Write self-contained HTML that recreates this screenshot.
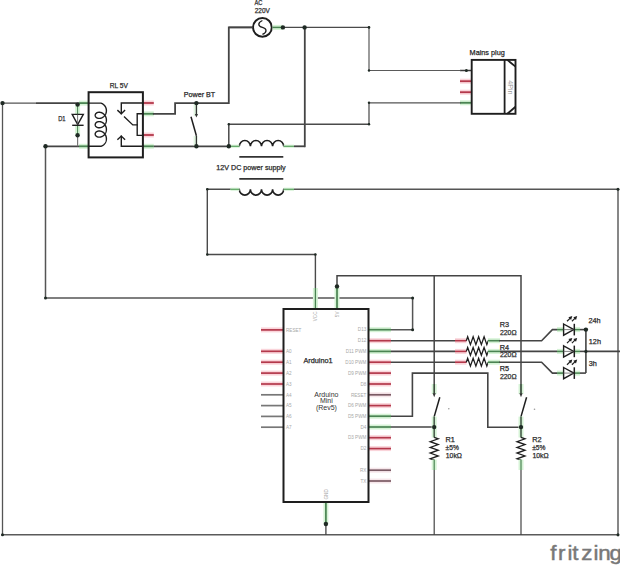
<!DOCTYPE html>
<html><head><meta charset="utf-8"><style>
html,body{margin:0;padding:0;background:#fff;}
body{width:620px;height:565px;overflow:hidden;}
svg{display:block;font-family:"Liberation Sans",sans-serif;}
</style></head><body>
<svg width="620" height="565" viewBox="0 0 620 565">
<rect width="620" height="565" fill="#fff"/>
<line x1="79" y1="103.1" x2="88.6" y2="103.1" stroke="#d6f3d6" stroke-width="5"/>
<line x1="79" y1="103.1" x2="88.6" y2="103.1" stroke="#4a8452" stroke-width="1.8"/>
<line x1="79" y1="146.3" x2="88.6" y2="146.3" stroke="#d6f3d6" stroke-width="5"/>
<line x1="79" y1="146.3" x2="88.6" y2="146.3" stroke="#4a8452" stroke-width="1.8"/>
<line x1="142.9" y1="103.0" x2="153.8" y2="103.0" stroke="#fad4da" stroke-width="5"/>
<line x1="142.9" y1="103.0" x2="153.8" y2="103.0" stroke="#b3384b" stroke-width="1.8"/>
<line x1="142.9" y1="113.8" x2="153.8" y2="113.8" stroke="#d6f3d6" stroke-width="5"/>
<line x1="142.9" y1="113.8" x2="153.8" y2="113.8" stroke="#4a8452" stroke-width="1.8"/>
<line x1="142.9" y1="135.0" x2="153.8" y2="135.0" stroke="#fad4da" stroke-width="5"/>
<line x1="142.9" y1="135.0" x2="153.8" y2="135.0" stroke="#b3384b" stroke-width="1.8"/>
<line x1="142.9" y1="146.3" x2="153.8" y2="146.3" stroke="#d6f3d6" stroke-width="5"/>
<line x1="142.9" y1="146.3" x2="153.8" y2="146.3" stroke="#4a8452" stroke-width="1.8"/>
<line x1="77.6" y1="104.6" x2="77.6" y2="114.4" stroke="#d6f3d6" stroke-width="5"/>
<line x1="77.6" y1="104.6" x2="77.6" y2="114.4" stroke="#4a8452" stroke-width="1.0"/>
<line x1="77.6" y1="125.4" x2="77.6" y2="135.2" stroke="#d6f3d6" stroke-width="5"/>
<line x1="77.6" y1="125.4" x2="77.6" y2="135.2" stroke="#4a8452" stroke-width="1.0"/>
<line x1="460" y1="70.5" x2="471.6" y2="70.5" stroke="#3a3a3a" stroke-width="1.5"/>
<line x1="460" y1="81.2" x2="471.6" y2="81.2" stroke="#fad4da" stroke-width="5"/>
<line x1="460" y1="81.2" x2="471.6" y2="81.2" stroke="#b3384b" stroke-width="1.8"/>
<line x1="460" y1="92.2" x2="471.6" y2="92.2" stroke="#fad4da" stroke-width="5"/>
<line x1="460" y1="92.2" x2="471.6" y2="92.2" stroke="#b3384b" stroke-width="1.8"/>
<line x1="460" y1="102.8" x2="471.6" y2="102.8" stroke="#d6f3d6" stroke-width="5"/>
<line x1="460" y1="102.8" x2="471.6" y2="102.8" stroke="#4a8452" stroke-width="1.8"/>
<line x1="2.5" y1="102.2" x2="2.5" y2="535.5" stroke="#555" stroke-width="1.3"/>
<line x1="1.6" y1="103.1" x2="36" y2="103.1" stroke="#555" stroke-width="1.3"/>
<line x1="36" y1="103.1" x2="79" y2="103.1" stroke="#444" stroke-width="1.9"/>
<line x1="1.6" y1="534.8" x2="618.4" y2="534.8" stroke="#5a5a5a" stroke-width="1.6"/>
<line x1="45.5" y1="146.3" x2="79" y2="146.3" stroke="#444" stroke-width="1.8"/>
<polyline points="45.5,146.3 45.5,297.9 412.6,297.9 412.6,329.7 391,329.7" fill="none" stroke="#555" stroke-width="1.5" stroke-linejoin="miter" stroke-linecap="square"/>
<line x1="77.6" y1="135.2" x2="77.6" y2="146.3" stroke="#777" stroke-width="1.2"/>
<polyline points="153.8,113.8 175.1,113.8 175.1,103.1 228.8,103.1 228.8,27.4 252,27.4" fill="none" stroke="#444" stroke-width="1.8" stroke-linejoin="miter" stroke-linecap="square"/>
<line x1="153.8" y1="146.3" x2="239.3" y2="146.3" stroke="#444" stroke-width="1.8"/>
<line x1="283.7" y1="146.3" x2="304.8" y2="146.3" stroke="#444" stroke-width="1.8"/>
<line x1="304.8" y1="27.4" x2="304.8" y2="147.2" stroke="#444" stroke-width="1.8"/>
<line x1="272.6" y1="27.4" x2="369.0" y2="27.4" stroke="#4a4a4a" stroke-width="1.4"/>
<polyline points="369.0,27.4 369.0,70.5 460,70.5" fill="none" stroke="#5a5a5a" stroke-width="1.2" stroke-linejoin="miter" stroke-linecap="square"/>
<polyline points="460,102.8 369.0,102.8 369.0,124.2" fill="none" stroke="#555" stroke-width="1.3" stroke-linejoin="miter" stroke-linecap="square"/>
<polyline points="369.0,124.2 228.8,124.2 228.8,146.3" fill="none" stroke="#4a4a4a" stroke-width="1.5" stroke-linejoin="miter" stroke-linecap="square"/>
<polyline points="239.3,189.3 207.3,189.3 207.3,254.5 315.4,254.5 315.4,288" fill="none" stroke="#4a4a4a" stroke-width="1.4" stroke-linejoin="miter" stroke-linecap="square"/>
<polyline points="283.7,189.3 618.0,189.3 618.0,535.5" fill="none" stroke="#555" stroke-width="1.4" stroke-linejoin="miter" stroke-linecap="square"/>
<polyline points="337.0,288 337.0,275.8 521.0,275.8 521.0,384" fill="none" stroke="#444" stroke-width="1.5" stroke-linejoin="miter" stroke-linecap="square"/>
<line x1="434.2" y1="275.8" x2="434.2" y2="384" stroke="#444" stroke-width="1.5"/>
<line x1="391" y1="340.7" x2="455" y2="340.7" stroke="#444" stroke-width="1.6"/>
<line x1="391" y1="351.4" x2="455" y2="351.4" stroke="#444" stroke-width="1.6"/>
<line x1="391" y1="362.2" x2="455" y2="362.2" stroke="#444" stroke-width="1.6"/>
<polyline points="391,416.2 412.4,416.2 412.4,373.1 487.8,373.1 487.8,427.2 520.9,427.2" fill="none" stroke="#444" stroke-width="1.6" stroke-linejoin="miter" stroke-linecap="square"/>
<line x1="391" y1="427.0" x2="434.2" y2="427.0" stroke="#444" stroke-width="1.6"/>
<rect x="88.6" y="92.2" width="54.3" height="65.2" fill="none" stroke="#1e1e1e" stroke-width="2"/>
<path d="M88.6,103.1 L100.8,103.1 L100.80,103.10 L101.11,103.19 L101.41,103.30 L101.72,103.42 L102.02,103.55 L102.32,103.71 L102.61,103.87 L102.90,104.05 L103.18,104.25 L103.46,104.46 L103.73,104.69 L103.98,104.92 L104.23,105.18 L104.47,105.44 L104.70,105.71 L104.91,106.00 L105.11,106.30 L105.30,106.60 L105.48,106.92 L105.64,107.25 L105.79,107.58 L105.92,107.92 L106.04,108.27 L106.14,108.62 L106.22,108.97 L106.29,109.34 L106.34,109.70 L106.38,110.07 L106.40,110.43 L106.40,110.80 L106.38,111.17 L106.35,111.53 L106.30,111.90 L106.23,112.26 L106.15,112.62 L106.05,112.97 L105.94,113.32 L105.81,113.66 L105.66,113.99 L105.50,114.32 L105.33,114.64 L105.14,114.95 L104.94,115.24 L104.73,115.53 L104.50,115.81 L104.27,116.07 L104.02,116.33 L103.76,116.57 L103.50,116.79 L103.22,117.01 L102.94,117.20 L102.66,117.39 L102.36,117.56 L102.06,117.71 L101.76,117.85 L101.46,117.97 L101.15,118.08 L100.84,118.17 L100.54,118.25 L100.23,118.31 L99.92,118.36 L99.62,118.39 L99.32,118.40 L99.03,118.40 L98.74,118.38 L98.46,118.35 L98.18,118.31 L97.91,118.25 L97.65,118.18 L97.40,118.09 L97.16,117.99 L96.93,117.88 L96.72,117.76 L96.51,117.63 L96.32,117.49 L96.14,117.34 L95.98,117.18 L95.83,117.01 L95.70,116.84 L95.58,116.65 L95.47,116.47 L95.39,116.27 L95.32,116.08 L95.26,115.88 L95.22,115.68 L95.20,115.47 L95.20,115.27 L95.21,115.07 L95.24,114.86 L95.29,114.66 L95.35,114.47 L95.43,114.27 L95.53,114.08 L95.64,113.90 L95.77,113.72 L95.91,113.55 L96.07,113.39 L96.24,113.23 L96.43,113.08 L96.63,112.95 L96.84,112.82 L97.06,112.71 L97.30,112.61 L97.54,112.52 L97.80,112.44 L98.06,112.37 L98.34,112.32 L98.62,112.29 L98.90,112.26 L99.20,112.26 L99.49,112.26 L99.79,112.29 L100.10,112.33 L100.40,112.38 L100.71,112.45 L101.02,112.53 L101.33,112.64 L101.63,112.75 L101.94,112.88 L102.24,113.03 L102.53,113.19 L102.82,113.37 L103.10,113.56 L103.38,113.77 L103.65,113.99 L103.91,114.23 L104.16,114.47 L104.40,114.73 L104.63,115.01 L104.85,115.29 L105.06,115.58 L105.25,115.89 L105.43,116.20 L105.60,116.52 L105.75,116.85 L105.89,117.19 L106.01,117.54 L106.11,117.89 L106.20,118.24 L106.27,118.60 L106.33,118.97 L106.37,119.33 L106.39,119.70 L106.40,120.07 L106.39,120.43 L106.36,120.80 L106.32,121.17 L106.26,121.53 L106.18,121.89 L106.08,122.24 L105.97,122.59 L105.85,122.93 L105.71,123.27 L105.55,123.60 L105.38,123.92 L105.20,124.23 L105.00,124.53 L104.79,124.82 L104.57,125.10 L104.34,125.37 L104.09,125.63 L103.84,125.87 L103.57,126.10 L103.30,126.32 L103.02,126.52 L102.74,126.71 L102.45,126.88 L102.15,127.04 L101.85,127.18 L101.55,127.31 L101.24,127.42 L100.93,127.52 L100.62,127.60 L100.32,127.67 L100.01,127.72 L99.71,127.75 L99.41,127.77 L99.11,127.77 L98.82,127.76 L98.54,127.73 L98.26,127.69 L97.99,127.64 L97.73,127.57 L97.47,127.49 L97.23,127.39 L97.00,127.29 L96.78,127.17 L96.57,127.04 L96.38,126.90 L96.19,126.75 L96.03,126.60 L95.87,126.43 L95.73,126.26 L95.61,126.08 L95.50,125.89 L95.41,125.70 L95.33,125.51 L95.28,125.31 L95.23,125.11 L95.21,124.90 L95.20,124.70 L95.21,124.50 L95.23,124.29 L95.28,124.09 L95.33,123.89 L95.41,123.70 L95.50,123.51 L95.61,123.32 L95.73,123.14 L95.87,122.97 L96.03,122.80 L96.19,122.65 L96.38,122.50 L96.57,122.36 L96.78,122.23 L97.00,122.11 L97.23,122.01 L97.47,121.91 L97.73,121.83 L97.99,121.76 L98.26,121.71 L98.54,121.67 L98.82,121.64 L99.11,121.63 L99.41,121.63 L99.71,121.65 L100.01,121.68 L100.32,121.73 L100.62,121.80 L100.93,121.88 L101.24,121.98 L101.55,122.09 L101.85,122.22 L102.15,122.36 L102.45,122.52 L102.74,122.69 L103.02,122.88 L103.30,123.08 L103.57,123.30 L103.84,123.53 L104.09,123.77 L104.34,124.03 L104.57,124.30 L104.79,124.58 L105.00,124.87 L105.20,125.17 L105.38,125.48 L105.55,125.80 L105.71,126.13 L105.85,126.47 L105.97,126.81 L106.08,127.16 L106.18,127.51 L106.26,127.87 L106.32,128.23 L106.36,128.60 L106.39,128.97 L106.40,129.33 L106.39,129.70 L106.37,130.07 L106.33,130.43 L106.27,130.80 L106.20,131.16 L106.11,131.51 L106.01,131.86 L105.89,132.21 L105.75,132.55 L105.60,132.88 L105.43,133.20 L105.25,133.51 L105.06,133.82 L104.85,134.11 L104.63,134.39 L104.40,134.67 L104.16,134.93 L103.91,135.17 L103.65,135.41 L103.38,135.63 L103.10,135.84 L102.82,136.03 L102.53,136.21 L102.24,136.37 L101.94,136.52 L101.63,136.65 L101.33,136.76 L101.02,136.87 L100.71,136.95 L100.40,137.02 L100.10,137.07 L99.79,137.11 L99.49,137.14 L99.20,137.14 L98.90,137.14 L98.62,137.11 L98.34,137.08 L98.06,137.03 L97.80,136.96 L97.54,136.88 L97.30,136.79 L97.06,136.69 L96.84,136.58 L96.63,136.45 L96.43,136.32 L96.24,136.17 L96.07,136.01 L95.91,135.85 L95.77,135.68 L95.64,135.50 L95.53,135.32 L95.43,135.13 L95.35,134.93 L95.29,134.74 L95.24,134.54 L95.21,134.33 L95.20,134.13 L95.20,133.93 L95.22,133.72 L95.26,133.52 L95.32,133.32 L95.39,133.13 L95.47,132.93 L95.58,132.75 L95.70,132.56 L95.83,132.39 L95.98,132.22 L96.14,132.06 L96.32,131.91 L96.51,131.77 L96.72,131.64 L96.93,131.52 L97.16,131.41 L97.40,131.31 L97.65,131.22 L97.91,131.15 L98.18,131.09 L98.46,131.05 L98.74,131.02 L99.03,131.00 L99.32,131.00 L99.62,131.01 L99.92,131.04 L100.23,131.09 L100.54,131.15 L100.84,131.23 L101.15,131.32 L101.46,131.43 L101.76,131.55 L102.06,131.69 L102.36,131.84 L102.66,132.01 L102.94,132.20 L103.22,132.39 L103.50,132.61 L103.76,132.83 L104.02,133.07 L104.27,133.33 L104.50,133.59 L104.73,133.87 L104.94,134.16 L105.14,134.45 L105.33,134.76 L105.50,135.08 L105.66,135.41 L105.81,135.74 L105.94,136.08 L106.05,136.43 L106.15,136.78 L106.23,137.14 L106.30,137.50 L106.35,137.87 L106.38,138.23 L106.40,138.60 L106.40,138.97 L106.38,139.33 L106.34,139.70 L106.29,140.06 L106.22,140.43 L106.14,140.78 L106.04,141.13 L105.92,141.48 L105.79,141.82 L105.64,142.15 L105.48,142.48 L105.30,142.80 L105.11,143.10 L104.91,143.40 L104.70,143.69 L104.47,143.96 L104.23,144.22 L103.98,144.48 L103.73,144.71 L103.46,144.94 L103.18,145.15 L102.90,145.35 L102.61,145.53 L102.32,145.69 L102.02,145.85 L101.72,145.98 L101.41,146.10 L101.11,146.21 L100.80,146.30 L88.6,146.3" fill="none" stroke="#1e1e1e" stroke-width="1.4"/>
<polyline points="142.9,103.0 121.3,103.0 121.3,113.5" fill="none" stroke="#1e1e1e" stroke-width="1.4" stroke-linejoin="miter" stroke-linecap="square"/>
<polyline points="117.9,110.6 121.3,113.8 124.6,110.6" fill="none" stroke="#1e1e1e" stroke-width="1.4" stroke-linejoin="miter" stroke-linecap="square"/>
<polyline points="142.9,146.3 121.3,146.3 121.3,136.3" fill="none" stroke="#1e1e1e" stroke-width="1.4" stroke-linejoin="miter" stroke-linecap="square"/>
<polyline points="117.9,139.3 121.3,136.1 124.6,139.3" fill="none" stroke="#1e1e1e" stroke-width="1.4" stroke-linejoin="miter" stroke-linecap="square"/>
<polyline points="142.9,113.8 137.2,113.8 137.2,135.4 142.9,135.4" fill="none" stroke="#1e1e1e" stroke-width="1.4" stroke-linejoin="miter" stroke-linecap="square"/>
<polyline points="137.2,124.9 132.8,124.9 124.5,117.0" fill="none" stroke="#1e1e1e" stroke-width="1.4" stroke-linejoin="miter" stroke-linecap="square"/>
<path d="M72.2,114.4 L83.3,114.4 L77.7,124.6 Z" fill="none" stroke="#1e1e1e" stroke-width="1.4"/>
<line x1="72.2" y1="125.3" x2="83.6" y2="125.3" stroke="#1e1e1e" stroke-width="1.4"/>
<line x1="77.6" y1="114.4" x2="77.6" y2="124.6" stroke="#555" stroke-width="0.8"/>
<line x1="195.6" y1="104" x2="195.6" y2="116" stroke="#e2f6e2" stroke-width="4"/>
<line x1="195.6" y1="136" x2="195.6" y2="145.5" stroke="#e2f6e2" stroke-width="4"/>
<line x1="196.4" y1="103.1" x2="196.4" y2="114.5" stroke="#333" stroke-width="1.3"/>
<path d="M194.8,114 L198,114 L196.4,117.6 Z" fill="#333"/>
<line x1="196.4" y1="135.8" x2="196.4" y2="146.3" stroke="#333" stroke-width="1.3"/>
<line x1="196.4" y1="135.8" x2="191.0" y2="116.8" stroke="#1e1e1e" stroke-width="1.5"/>
<circle cx="262.4" cy="27.4" r="9.4" fill="#fff" stroke="#1e1e1e" stroke-width="2"/>
<path d="M262.4,20.5 C257.6,22.5 257.6,26 262.4,27.4 C267.2,28.8 267.2,32.3 262.4,34.3" fill="none" stroke="#1e1e1e" stroke-width="1.3"/>
<line x1="272.6" y1="27.4" x2="282.9" y2="27.4" stroke="#d6f3d6" stroke-width="5"/>
<line x1="272.6" y1="27.4" x2="282.9" y2="27.4" stroke="#4a8452" stroke-width="1.5"/>
<line x1="228.8" y1="27.4" x2="252.8" y2="27.4" stroke="#444" stroke-width="1.6"/>
<path d="M239.3,146.3 A5.55,5.83 0 0 1 250.40,146.3 A5.55,5.83 0 0 1 261.50,146.3 A5.55,5.83 0 0 1 272.60,146.3 A5.55,5.83 0 0 1 283.70,146.3 " fill="none" stroke="#1e1e1e" stroke-width="1.6"/>
<path d="M239.3,189.3 A5.55,5.83 0 0 0 250.40,189.3 A5.55,5.83 0 0 0 261.50,189.3 A5.55,5.83 0 0 0 272.60,189.3 A5.55,5.83 0 0 0 283.70,189.3 " fill="none" stroke="#1e1e1e" stroke-width="1.6"/>
<line x1="230.5" y1="146.3" x2="239.3" y2="146.3" stroke="#dff5df" stroke-width="3.5"/>
<line x1="230.5" y1="146.3" x2="239.3" y2="146.3" stroke="#62a868" stroke-width="1.3"/>
<line x1="283.7" y1="146.3" x2="294" y2="146.3" stroke="#dff5df" stroke-width="3.5"/>
<line x1="283.7" y1="146.3" x2="294" y2="146.3" stroke="#62a868" stroke-width="1.3"/>
<line x1="230.5" y1="189.3" x2="239.3" y2="189.3" stroke="#dff5df" stroke-width="3.5"/>
<line x1="230.5" y1="189.3" x2="239.3" y2="189.3" stroke="#62a868" stroke-width="1.3"/>
<line x1="283.7" y1="189.3" x2="294" y2="189.3" stroke="#dff5df" stroke-width="3.5"/>
<line x1="283.7" y1="189.3" x2="294" y2="189.3" stroke="#62a868" stroke-width="1.3"/>
<line x1="239.3" y1="156.9" x2="283.3" y2="156.9" stroke="#333" stroke-width="1.6"/>
<line x1="239.3" y1="178.9" x2="283.3" y2="178.9" stroke="#333" stroke-width="1.6"/>
<rect x="471.7" y="59.9" width="43.8" height="53.9" fill="#fff" stroke="#1e1e1e" stroke-width="1.9"/>
<line x1="504.6" y1="59.9" x2="504.6" y2="113.8" stroke="#1e1e1e" stroke-width="1.8"/>
<line x1="507.3" y1="59.9" x2="515.5" y2="66.6" stroke="#1e1e1e" stroke-width="1.8"/>
<line x1="507.3" y1="113.8" x2="515.5" y2="106.8" stroke="#1e1e1e" stroke-width="1.8"/>
<line x1="261.0" y1="329.9" x2="283.5" y2="329.9" stroke="#fad4da" stroke-width="5"/>
<line x1="261.0" y1="329.9" x2="283.5" y2="329.9" stroke="#b3384b" stroke-width="1.7"/>
<line x1="261.0" y1="351.3" x2="283.5" y2="351.3" stroke="#fad4da" stroke-width="5"/>
<line x1="261.0" y1="351.3" x2="283.5" y2="351.3" stroke="#b3384b" stroke-width="1.7"/>
<line x1="261.0" y1="362.2" x2="283.5" y2="362.2" stroke="#fad4da" stroke-width="5"/>
<line x1="261.0" y1="362.2" x2="283.5" y2="362.2" stroke="#b3384b" stroke-width="1.7"/>
<line x1="261.0" y1="373.1" x2="283.5" y2="373.1" stroke="#fad4da" stroke-width="5"/>
<line x1="261.0" y1="373.1" x2="283.5" y2="373.1" stroke="#b3384b" stroke-width="1.7"/>
<line x1="261.0" y1="384.0" x2="283.5" y2="384.0" stroke="#fad4da" stroke-width="5"/>
<line x1="261.0" y1="384.0" x2="283.5" y2="384.0" stroke="#b3384b" stroke-width="1.7"/>
<line x1="261.0" y1="394.8" x2="283.5" y2="394.8" stroke="#777" stroke-width="1.7"/>
<line x1="261.0" y1="405.6" x2="283.5" y2="405.6" stroke="#777" stroke-width="1.7"/>
<line x1="261.0" y1="416.4" x2="283.5" y2="416.4" stroke="#777" stroke-width="1.7"/>
<line x1="261.0" y1="427.2" x2="283.5" y2="427.2" stroke="#777" stroke-width="1.7"/>
<line x1="368.5" y1="329.7" x2="391.0" y2="329.7" stroke="#d6f3d6" stroke-width="5"/>
<line x1="368.5" y1="329.7" x2="391.0" y2="329.7" stroke="#4a8452" stroke-width="1.7"/>
<line x1="368.5" y1="340.7" x2="391.0" y2="340.7" stroke="#fad4da" stroke-width="5"/>
<line x1="368.5" y1="340.7" x2="391.0" y2="340.7" stroke="#b3384b" stroke-width="1.7"/>
<line x1="368.5" y1="351.4" x2="391.0" y2="351.4" stroke="#d6f3d6" stroke-width="5"/>
<line x1="368.5" y1="351.4" x2="391.0" y2="351.4" stroke="#4a8452" stroke-width="1.7"/>
<line x1="368.5" y1="362.2" x2="391.0" y2="362.2" stroke="#fad4da" stroke-width="5"/>
<line x1="368.5" y1="362.2" x2="391.0" y2="362.2" stroke="#b3384b" stroke-width="1.7"/>
<line x1="368.5" y1="373.1" x2="391.0" y2="373.1" stroke="#fad4da" stroke-width="5"/>
<line x1="368.5" y1="373.1" x2="391.0" y2="373.1" stroke="#b3384b" stroke-width="1.7"/>
<line x1="368.5" y1="384.0" x2="391.0" y2="384.0" stroke="#fad4da" stroke-width="5"/>
<line x1="368.5" y1="384.0" x2="391.0" y2="384.0" stroke="#b3384b" stroke-width="1.7"/>
<line x1="368.5" y1="394.8" x2="391.0" y2="394.8" stroke="#f6e6ea" stroke-width="5"/>
<line x1="368.5" y1="394.8" x2="391.0" y2="394.8" stroke="#7a5a64" stroke-width="1.7"/>
<line x1="368.5" y1="405.6" x2="391.0" y2="405.6" stroke="#fad4da" stroke-width="5"/>
<line x1="368.5" y1="405.6" x2="391.0" y2="405.6" stroke="#b3384b" stroke-width="1.7"/>
<line x1="368.5" y1="416.2" x2="391.0" y2="416.2" stroke="#d6f3d6" stroke-width="5"/>
<line x1="368.5" y1="416.2" x2="391.0" y2="416.2" stroke="#4a8452" stroke-width="1.7"/>
<line x1="368.5" y1="427.0" x2="391.0" y2="427.0" stroke="#d6f3d6" stroke-width="5"/>
<line x1="368.5" y1="427.0" x2="391.0" y2="427.0" stroke="#4a8452" stroke-width="1.7"/>
<line x1="368.5" y1="437.7" x2="391.0" y2="437.7" stroke="#fad4da" stroke-width="5"/>
<line x1="368.5" y1="437.7" x2="391.0" y2="437.7" stroke="#b3384b" stroke-width="1.7"/>
<line x1="368.5" y1="448.6" x2="391.0" y2="448.6" stroke="#fad4da" stroke-width="5"/>
<line x1="368.5" y1="448.6" x2="391.0" y2="448.6" stroke="#b3384b" stroke-width="1.7"/>
<line x1="368.5" y1="470.2" x2="391.0" y2="470.2" stroke="#f6e6ea" stroke-width="5"/>
<line x1="368.5" y1="470.2" x2="391.0" y2="470.2" stroke="#7a5a64" stroke-width="1.7"/>
<line x1="368.5" y1="481.0" x2="391.0" y2="481.0" stroke="#f6e6ea" stroke-width="5"/>
<line x1="368.5" y1="481.0" x2="391.0" y2="481.0" stroke="#7a5a64" stroke-width="1.7"/>
<line x1="315.4" y1="288" x2="315.4" y2="309" stroke="#d6f3d6" stroke-width="5"/>
<line x1="315.4" y1="288" x2="315.4" y2="309" stroke="#4a8452" stroke-width="1.3"/>
<line x1="337.0" y1="288" x2="337.0" y2="309" stroke="#d6f3d6" stroke-width="5"/>
<line x1="337.0" y1="288" x2="337.0" y2="309" stroke="#4a8452" stroke-width="1.7"/>
<line x1="325.9" y1="502" x2="325.9" y2="524" stroke="#d6f3d6" stroke-width="5"/>
<line x1="325.9" y1="502" x2="325.9" y2="524" stroke="#4a8452" stroke-width="1.7"/>
<line x1="325.9" y1="524" x2="325.9" y2="535" stroke="#444" stroke-width="1.3"/>
<rect x="283.5" y="309" width="85" height="193" fill="none" stroke="#1e1e1e" stroke-width="2"/>
<text x="286.0" y="331.59999999999997" font-size="4.6" fill="#a8a8a8" text-anchor="start" >RESET</text>
<text x="286.0" y="353.0" font-size="4.6" fill="#a8a8a8" text-anchor="start" >A0</text>
<text x="286.0" y="363.9" font-size="4.6" fill="#a8a8a8" text-anchor="start" >A1</text>
<text x="286.0" y="374.8" font-size="4.6" fill="#a8a8a8" text-anchor="start" >A2</text>
<text x="286.0" y="385.7" font-size="4.6" fill="#a8a8a8" text-anchor="start" >A3</text>
<text x="286.0" y="396.5" font-size="4.6" fill="#a8a8a8" text-anchor="start" >A4</text>
<text x="286.0" y="407.3" font-size="4.6" fill="#a8a8a8" text-anchor="start" >A5</text>
<text x="286.0" y="418.09999999999997" font-size="4.6" fill="#a8a8a8" text-anchor="start" >A6</text>
<text x="286.0" y="428.9" font-size="4.6" fill="#a8a8a8" text-anchor="start" >A7</text>
<text x="366.3" y="331.4" font-size="4.6" fill="#a8a8a8" text-anchor="end" >D13</text>
<text x="366.3" y="342.4" font-size="4.6" fill="#a8a8a8" text-anchor="end" >D12</text>
<text x="366.3" y="353.09999999999997" font-size="4.6" fill="#a8a8a8" text-anchor="end" >D11 PWM</text>
<text x="366.3" y="363.9" font-size="4.6" fill="#a8a8a8" text-anchor="end" >D10 PWM</text>
<text x="366.3" y="374.8" font-size="4.6" fill="#a8a8a8" text-anchor="end" >D9 PWM</text>
<text x="366.3" y="385.7" font-size="4.6" fill="#a8a8a8" text-anchor="end" >D8</text>
<text x="366.3" y="396.5" font-size="4.6" fill="#a8a8a8" text-anchor="end" >RESET</text>
<text x="366.3" y="407.3" font-size="4.6" fill="#a8a8a8" text-anchor="end" >D6 PWM</text>
<text x="366.3" y="417.9" font-size="4.6" fill="#a8a8a8" text-anchor="end" >D5 PWM</text>
<text x="366.3" y="428.7" font-size="4.6" fill="#a8a8a8" text-anchor="end" >D4</text>
<text x="366.3" y="439.4" font-size="4.6" fill="#a8a8a8" text-anchor="end" >D3 PWM</text>
<text x="366.3" y="450.3" font-size="4.6" fill="#a8a8a8" text-anchor="end" >D2</text>
<text x="366.3" y="471.9" font-size="4.6" fill="#a8a8a8" text-anchor="end" >RX</text>
<text x="366.3" y="482.7" font-size="4.6" fill="#a8a8a8" text-anchor="end" >TX</text>
<text x="317.0" y="311.5" font-size="4.6" fill="#a8a8a8" text-anchor="end" transform="rotate(-90 317 311.5)">VCC</text>
<text x="338.6" y="311.5" font-size="4.6" fill="#a8a8a8" text-anchor="end" transform="rotate(-90 338.6 311.5)">5V</text>
<text x="327.5" y="499.5" font-size="4.6" fill="#a8a8a8" text-anchor="start" transform="rotate(-90 327.5 499.5)">GND</text>
<text x="318.0" y="362.6" font-size="7.3" fill="#2a2a2a" stroke="#2a2a2a" stroke-width="0.25" text-anchor="middle" >Arduino1</text>
<text x="326.4" y="396.5" font-size="7.0" fill="#333" text-anchor="middle" >Arduino</text>
<text x="326.4" y="403.1" font-size="7.0" fill="#333" text-anchor="middle" >Mini</text>
<text x="326.4" y="409.6" font-size="7.0" fill="#333" text-anchor="middle" >(Rev5)</text>
<line x1="455" y1="340.7" x2="466.5" y2="340.7" stroke="#fad4da" stroke-width="5"/>
<line x1="455" y1="340.7" x2="466.5" y2="340.7" stroke="#b3384b" stroke-width="1.6"/>
<polyline points="466.30,340.70 467.67,336.80 470.41,344.60 473.14,336.80 475.88,344.60 478.62,336.80 481.36,344.60 484.09,336.80 486.83,344.60 488.20,340.70" fill="none" stroke="#1e1e1e" stroke-width="1.3" stroke-linejoin="miter"/>
<line x1="487.9" y1="340.7" x2="500" y2="340.7" stroke="#d6f3d6" stroke-width="5"/>
<line x1="487.9" y1="340.7" x2="500" y2="340.7" stroke="#4a8452" stroke-width="1.6"/>
<line x1="455" y1="351.4" x2="466.5" y2="351.4" stroke="#fad4da" stroke-width="5"/>
<line x1="455" y1="351.4" x2="466.5" y2="351.4" stroke="#b3384b" stroke-width="1.6"/>
<polyline points="466.30,351.40 467.67,347.50 470.41,355.30 473.14,347.50 475.88,355.30 478.62,347.50 481.36,355.30 484.09,347.50 486.83,355.30 488.20,351.40" fill="none" stroke="#1e1e1e" stroke-width="1.3" stroke-linejoin="miter"/>
<line x1="487.9" y1="351.4" x2="500" y2="351.4" stroke="#d6f3d6" stroke-width="5"/>
<line x1="487.9" y1="351.4" x2="500" y2="351.4" stroke="#4a8452" stroke-width="1.6"/>
<line x1="455" y1="362.2" x2="466.5" y2="362.2" stroke="#fad4da" stroke-width="5"/>
<line x1="455" y1="362.2" x2="466.5" y2="362.2" stroke="#b3384b" stroke-width="1.6"/>
<polyline points="466.30,362.20 467.67,358.30 470.41,366.10 473.14,358.30 475.88,366.10 478.62,358.30 481.36,366.10 484.09,358.30 486.83,366.10 488.20,362.20" fill="none" stroke="#1e1e1e" stroke-width="1.3" stroke-linejoin="miter"/>
<line x1="487.9" y1="362.2" x2="500" y2="362.2" stroke="#d6f3d6" stroke-width="5"/>
<line x1="487.9" y1="362.2" x2="500" y2="362.2" stroke="#4a8452" stroke-width="1.6"/>
<polyline points="500,340.7 541.6,340.7 552.4,329.6 557,329.6" fill="none" stroke="#444" stroke-width="1.6" stroke-linejoin="miter" stroke-linecap="square"/>
<line x1="557" y1="329.6" x2="563.6" y2="329.6" stroke="#d6f3d6" stroke-width="5"/>
<line x1="557" y1="329.6" x2="563.6" y2="329.6" stroke="#4a8452" stroke-width="1.6"/>
<line x1="500" y1="351.4" x2="557" y2="351.4" stroke="#444" stroke-width="1.6"/>
<line x1="557" y1="351.4" x2="563.6" y2="351.4" stroke="#d6f3d6" stroke-width="5"/>
<line x1="557" y1="351.4" x2="563.6" y2="351.4" stroke="#4a8452" stroke-width="1.6"/>
<polyline points="500,362.2 541.6,362.2 552.4,373.1 557,373.1" fill="none" stroke="#444" stroke-width="1.6" stroke-linejoin="miter" stroke-linecap="square"/>
<line x1="557" y1="373.1" x2="563.6" y2="373.1" stroke="#d6f3d6" stroke-width="5"/>
<line x1="557" y1="373.1" x2="563.6" y2="373.1" stroke="#4a8452" stroke-width="1.6"/>
<line x1="574.3" y1="329.6" x2="580" y2="329.6" stroke="#d6f3d6" stroke-width="5"/>
<line x1="574.3" y1="329.6" x2="580" y2="329.6" stroke="#4a8452" stroke-width="1.5"/>
<line x1="580" y1="329.6" x2="585.9" y2="329.6" stroke="#444" stroke-width="1.6"/>
<path d="M563.6,324.0 L573.8,329.6 L563.6,335.20000000000005 Z" fill="#fff" stroke="#1e1e1e" stroke-width="1.4"/>
<line x1="563.6" y1="329.6" x2="573.7" y2="329.6" stroke="#666" stroke-width="0.8"/>
<line x1="574.3" y1="323.8" x2="574.3" y2="335.40000000000003" stroke="#1e1e1e" stroke-width="1.5"/>
<line x1="567.0" y1="321.3" x2="570.8" y2="317.6" stroke="#1e1e1e" stroke-width="1.2"/>
<path d="M572.3,316.1 L568.4,317.3 L571.1,320.00000000000006 Z" fill="#1e1e1e"/>
<line x1="571.9" y1="321.3" x2="575.6999999999999" y2="317.6" stroke="#1e1e1e" stroke-width="1.2"/>
<path d="M577.1999999999999,316.1 L573.3,317.3 L576.0,320.00000000000006 Z" fill="#1e1e1e"/>
<line x1="574.3" y1="351.4" x2="580" y2="351.4" stroke="#d6f3d6" stroke-width="5"/>
<line x1="574.3" y1="351.4" x2="580" y2="351.4" stroke="#4a8452" stroke-width="1.5"/>
<line x1="580" y1="351.4" x2="585.9" y2="351.4" stroke="#444" stroke-width="1.6"/>
<path d="M563.6,345.79999999999995 L573.8,351.4 L563.6,357.0 Z" fill="#fff" stroke="#1e1e1e" stroke-width="1.4"/>
<line x1="563.6" y1="351.4" x2="573.7" y2="351.4" stroke="#666" stroke-width="0.8"/>
<line x1="574.3" y1="345.59999999999997" x2="574.3" y2="357.2" stroke="#1e1e1e" stroke-width="1.5"/>
<line x1="567.0" y1="343.09999999999997" x2="570.8" y2="339.4" stroke="#1e1e1e" stroke-width="1.2"/>
<path d="M572.3,337.9 L568.4,339.09999999999997 L571.1,341.8 Z" fill="#1e1e1e"/>
<line x1="571.9" y1="343.09999999999997" x2="575.6999999999999" y2="339.4" stroke="#1e1e1e" stroke-width="1.2"/>
<path d="M577.1999999999999,337.9 L573.3,339.09999999999997 L576.0,341.8 Z" fill="#1e1e1e"/>
<line x1="574.3" y1="373.1" x2="580" y2="373.1" stroke="#d6f3d6" stroke-width="5"/>
<line x1="574.3" y1="373.1" x2="580" y2="373.1" stroke="#4a8452" stroke-width="1.5"/>
<line x1="580" y1="373.1" x2="585.9" y2="373.1" stroke="#444" stroke-width="1.6"/>
<path d="M563.6,367.5 L573.8,373.1 L563.6,378.70000000000005 Z" fill="#fff" stroke="#1e1e1e" stroke-width="1.4"/>
<line x1="563.6" y1="373.1" x2="573.7" y2="373.1" stroke="#666" stroke-width="0.8"/>
<line x1="574.3" y1="367.3" x2="574.3" y2="378.90000000000003" stroke="#1e1e1e" stroke-width="1.5"/>
<line x1="567.0" y1="364.8" x2="570.8" y2="361.1" stroke="#1e1e1e" stroke-width="1.2"/>
<path d="M572.3,359.6 L568.4,360.8 L571.1,363.50000000000006 Z" fill="#1e1e1e"/>
<line x1="571.9" y1="364.8" x2="575.6999999999999" y2="361.1" stroke="#1e1e1e" stroke-width="1.2"/>
<path d="M577.1999999999999,359.6 L573.3,360.8 L576.0,363.50000000000006 Z" fill="#1e1e1e"/>
<line x1="585.9" y1="329.6" x2="585.9" y2="373.1" stroke="#444" stroke-width="1.6"/>
<line x1="585.9" y1="351.4" x2="620" y2="351.4" stroke="#444" stroke-width="1.6"/>
<line x1="434.2" y1="384" x2="434.2" y2="394" stroke="#d6f3d6" stroke-width="5"/>
<line x1="434.2" y1="384" x2="434.2" y2="394" stroke="#4a8452" stroke-width="1.2"/>
<line x1="434.2" y1="384" x2="434.2" y2="393.5" stroke="#333" stroke-width="1.2"/>
<path d="M432.59999999999997,393.2 L435.8,393.2 L434.2,397.2 Z" fill="#333"/>
<line x1="434.2" y1="416.6" x2="439.8" y2="397.3" stroke="#1e1e1e" stroke-width="1.5"/>
<line x1="434.2" y1="416.6" x2="434.2" y2="437.5" stroke="#d6f3d6" stroke-width="5"/>
<line x1="434.2" y1="416.6" x2="434.2" y2="437.5" stroke="#4a8452" stroke-width="1.2"/>
<line x1="434.2" y1="416.6" x2="434.2" y2="437.5" stroke="#444" stroke-width="1.0"/>
<polyline points="434.20,437.40 438.20,438.82 430.20,441.68 438.20,444.52 430.20,447.38 438.20,450.23 430.20,453.07 438.20,455.93 430.20,458.77 434.20,460.20" fill="none" stroke="#1e1e1e" stroke-width="1.3" stroke-linejoin="miter"/>
<line x1="434.2" y1="459.6" x2="434.2" y2="470" stroke="#d6f3d6" stroke-width="5"/>
<line x1="434.2" y1="459.6" x2="434.2" y2="470" stroke="#4a8452" stroke-width="1.2"/>
<line x1="434.2" y1="470" x2="434.2" y2="535" stroke="#444" stroke-width="1.2"/>
<line x1="521.0" y1="384" x2="521.0" y2="394" stroke="#d6f3d6" stroke-width="5"/>
<line x1="521.0" y1="384" x2="521.0" y2="394" stroke="#4a8452" stroke-width="1.2"/>
<line x1="521.0" y1="384" x2="521.0" y2="393.5" stroke="#333" stroke-width="1.2"/>
<path d="M519.4,393.2 L522.6,393.2 L521.0,397.2 Z" fill="#333"/>
<line x1="521.0" y1="416.6" x2="526.6" y2="397.3" stroke="#1e1e1e" stroke-width="1.5"/>
<line x1="521.0" y1="416.6" x2="521.0" y2="437.5" stroke="#d6f3d6" stroke-width="5"/>
<line x1="521.0" y1="416.6" x2="521.0" y2="437.5" stroke="#4a8452" stroke-width="1.2"/>
<line x1="521.0" y1="416.6" x2="521.0" y2="437.5" stroke="#444" stroke-width="1.0"/>
<polyline points="521.00,437.40 525.00,438.82 517.00,441.68 525.00,444.52 517.00,447.38 525.00,450.23 517.00,453.07 525.00,455.93 517.00,458.77 521.00,460.20" fill="none" stroke="#1e1e1e" stroke-width="1.3" stroke-linejoin="miter"/>
<line x1="521.0" y1="459.6" x2="521.0" y2="470" stroke="#d6f3d6" stroke-width="5"/>
<line x1="521.0" y1="459.6" x2="521.0" y2="470" stroke="#4a8452" stroke-width="1.2"/>
<line x1="521.0" y1="470" x2="521.0" y2="535" stroke="#444" stroke-width="1.2"/>
<circle cx="448.8" cy="408.8" r="0.8" fill="#999"/>
<circle cx="534.5" cy="409.3" r="0.8" fill="#999"/>
<text x="254.4" y="4.8" font-size="7.3" fill="#2a2a2a" stroke="#2a2a2a" stroke-width="0.25" text-anchor="start" textLength="8.0" lengthAdjust="spacingAndGlyphs">AC</text>
<text x="254.7" y="12.9" font-size="7.3" fill="#2a2a2a" stroke="#2a2a2a" stroke-width="0.25" text-anchor="start" textLength="15.1" lengthAdjust="spacingAndGlyphs">220V</text>
<text x="109.7" y="87.6" font-size="7.3" fill="#2a2a2a" stroke="#2a2a2a" stroke-width="0.25" text-anchor="start" textLength="18.2" lengthAdjust="spacingAndGlyphs">RL 5V</text>
<text x="183.8" y="96.7" font-size="7.3" fill="#2a2a2a" stroke="#2a2a2a" stroke-width="0.25" text-anchor="start" textLength="31.4" lengthAdjust="spacingAndGlyphs">Power BT</text>
<text x="216.2" y="170.4" font-size="7.3" fill="#2a2a2a" stroke="#2a2a2a" stroke-width="0.25" text-anchor="start" textLength="69.5" lengthAdjust="spacingAndGlyphs">12V DC power supply</text>
<text x="469.6" y="55.4" font-size="7.3" fill="#2a2a2a" stroke="#2a2a2a" stroke-width="0.25" text-anchor="start" textLength="35.2" lengthAdjust="spacingAndGlyphs">Mains plug</text>
<text x="58.2" y="121.3" font-size="7.3" fill="#2a2a2a" stroke="#2a2a2a" stroke-width="0.25" text-anchor="start" textLength="7.4" lengthAdjust="spacingAndGlyphs">D1</text>
<text x="499.7" y="326.8" font-size="7.3" fill="#2a2a2a" stroke="#2a2a2a" stroke-width="0.25" text-anchor="start" >R3</text>
<text x="499.7" y="349.7" font-size="7.3" fill="#2a2a2a" stroke="#2a2a2a" stroke-width="0.25" text-anchor="start" >R4</text>
<text x="499.7" y="370.7" font-size="7.3" fill="#2a2a2a" stroke="#2a2a2a" stroke-width="0.25" text-anchor="start" >R5</text>
<text x="499.9" y="334.8" font-size="7.3" fill="#2a2a2a" stroke="#2a2a2a" stroke-width="0.25" text-anchor="start" textLength="16.7" lengthAdjust="spacingAndGlyphs">220&#937;</text>
<text x="499.9" y="357.1" font-size="7.3" fill="#2a2a2a" stroke="#2a2a2a" stroke-width="0.25" text-anchor="start" textLength="16.7" lengthAdjust="spacingAndGlyphs">220&#937;</text>
<text x="499.9" y="378.8" font-size="7.3" fill="#2a2a2a" stroke="#2a2a2a" stroke-width="0.25" text-anchor="start" textLength="16.7" lengthAdjust="spacingAndGlyphs">220&#937;</text>
<text x="588.5" y="322.8" font-size="7.3" fill="#2a2a2a" stroke="#2a2a2a" stroke-width="0.25" text-anchor="start" >24h</text>
<text x="588.8" y="344.3" font-size="7.3" fill="#2a2a2a" stroke="#2a2a2a" stroke-width="0.25" text-anchor="start" >12h</text>
<text x="588.8" y="366.4" font-size="7.3" fill="#2a2a2a" stroke="#2a2a2a" stroke-width="0.25" text-anchor="start" >3h</text>
<text x="445.6" y="442.4" font-size="7.3" fill="#2a2a2a" stroke="#2a2a2a" stroke-width="0.25" text-anchor="start" >R1</text>
<text x="445.6" y="449.8" font-size="7.3" fill="#2a2a2a" stroke="#2a2a2a" stroke-width="0.25" text-anchor="start" textLength="13.3" lengthAdjust="spacingAndGlyphs">&#177;5%</text>
<text x="445.8" y="457.5" font-size="7.3" fill="#2a2a2a" stroke="#2a2a2a" stroke-width="0.25" text-anchor="start" textLength="16.2" lengthAdjust="spacingAndGlyphs">10k&#937;</text>
<text x="532.2" y="442.4" font-size="7.3" fill="#2a2a2a" stroke="#2a2a2a" stroke-width="0.25" text-anchor="start" >R2</text>
<text x="532.2" y="449.8" font-size="7.3" fill="#2a2a2a" stroke="#2a2a2a" stroke-width="0.25" text-anchor="start" textLength="13.3" lengthAdjust="spacingAndGlyphs">&#177;5%</text>
<text x="532.4000000000001" y="457.5" font-size="7.3" fill="#2a2a2a" stroke="#2a2a2a" stroke-width="0.25" text-anchor="start" textLength="16.2" lengthAdjust="spacingAndGlyphs">10k&#937;</text>
<text x="508.1" y="87.4" font-size="6.4" fill="#999" text-anchor="middle" textLength="14.5" lengthAdjust="spacingAndGlyphs" transform="rotate(90 508.1 87.4)">4Pin</text>
<text transform="translate(550.3,559.6) scale(1.14,1)" font-size="19.6" fill="#787878" stroke="#787878" stroke-width="0.45">f</text>
<text transform="translate(558.0,559.6) scale(1.14,1)" font-size="19.6" fill="#787878" stroke="#787878" stroke-width="0.45">r</text>
<text transform="translate(567.6,559.6) scale(1.14,1)" font-size="19.6" fill="#787878" stroke="#787878" stroke-width="0.45">i</text>
<text transform="translate(572.2,559.6) scale(1.14,1)" font-size="19.6" fill="#787878" stroke="#787878" stroke-width="0.45">t</text>
<text transform="translate(581.2,559.6) scale(1.14,1)" font-size="19.6" fill="#787878" stroke="#787878" stroke-width="0.45">z</text>
<text transform="translate(593.4,559.6) scale(1.14,1)" font-size="19.6" fill="#787878" stroke="#787878" stroke-width="0.45">i</text>
<text transform="translate(598.2,559.6) scale(1.14,1)" font-size="19.6" fill="#787878" stroke="#787878" stroke-width="0.45">n</text>
<text transform="translate(609.6,559.6) scale(1.14,1)" font-size="19.6" fill="#787878" stroke="#787878" stroke-width="0.45">g</text>
<circle cx="2.5" cy="534.8" r="1.5" fill="#1f2a24"/>
<circle cx="2.5" cy="103.1" r="2.2" fill="#1f2a24"/>
<circle cx="45.5" cy="146.3" r="2.2" fill="#1f2a24"/>
<circle cx="45.5" cy="297.9" r="1.5" fill="#1f2a24"/>
<circle cx="412.6" cy="297.9" r="1.5" fill="#1f2a24"/>
<circle cx="412.6" cy="329.7" r="1.5" fill="#1f2a24"/>
<circle cx="77.6" cy="104.6" r="2.2" fill="#1f2a24"/>
<circle cx="77.6" cy="135.2" r="2.2" fill="#1f2a24"/>
<circle cx="196.4" cy="103.1" r="2.2" fill="#1f2a24"/>
<circle cx="196.4" cy="146.3" r="2.2" fill="#1f2a24"/>
<circle cx="228.8" cy="146.3" r="2.2" fill="#1f2a24"/>
<circle cx="282.9" cy="27.4" r="2.2" fill="#1f2a24"/>
<circle cx="304.6" cy="27.4" r="2.2" fill="#1f2a24"/>
<circle cx="466.4" cy="70.5" r="1.5" fill="#1f2a24"/>
<circle cx="369.0" cy="70.5" r="1.2" fill="#1f2a24"/>
<circle cx="369.0" cy="27.4" r="1.3" fill="#1f2a24"/>
<circle cx="369.0" cy="102.8" r="1.2" fill="#1f2a24"/>
<circle cx="369.0" cy="124.2" r="1.2" fill="#1f2a24"/>
<circle cx="228.8" cy="124.2" r="1.2" fill="#1f2a24"/>
<circle cx="207.3" cy="189.3" r="1.3" fill="#1f2a24"/>
<circle cx="207.3" cy="254.5" r="1.3" fill="#1f2a24"/>
<circle cx="315.4" cy="254.5" r="1.3" fill="#1f2a24"/>
<circle cx="618.0" cy="189.3" r="1.5" fill="#1f2a24"/>
<circle cx="618.0" cy="534.8" r="1.5" fill="#1f2a24"/>
<circle cx="337.0" cy="286.4" r="2.2" fill="#1f2a24"/>
<circle cx="325.9" cy="524.0" r="2.2" fill="#1f2a24"/>
<circle cx="585.9" cy="329.6" r="2.2" fill="#1f2a24"/>
<circle cx="585.9" cy="351.4" r="1.6" fill="#1f2a24"/>
<circle cx="434.2" cy="427.1" r="2.2" fill="#1f2a24"/>
<circle cx="521.0" cy="427.1" r="2.2" fill="#1f2a24"/>
</svg>
</body></html>
